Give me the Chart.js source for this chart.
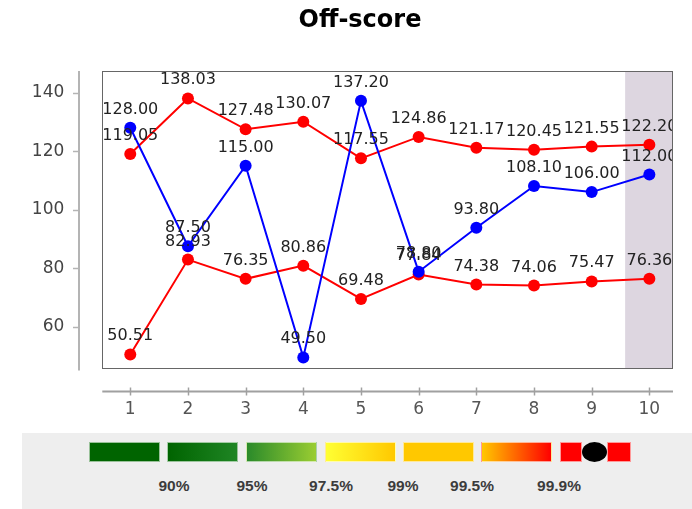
<!DOCTYPE html>
<html>
<head>
<meta charset="utf-8">
<script src="https://cdn.jsdelivr.net/npm/chart.js@4.4.1/dist/chart.umd.min.js"></script>
<style>
  html, body { margin: 0; padding: 0; background: #fff; }
  #wrap { position: relative; width: 692px; height: 509px; overflow: hidden; }
  #chart { position: absolute; left: 0; top: 0; }
  #title { position: absolute; left: 260px; width: 200px; top: 5px; line-height: 29px; text-align: center; font: bold 24px "DejaVu Sans", sans-serif; color: #000; }
  #band { position: absolute; left: 22px; top: 433px; width: 670px; height: 76px; background: #eeeeee; }
  .sw { position: absolute; top: 9px; height: 20px; box-sizing: border-box; border: 1px solid rgba(255,255,255,0.6); }
  .lab { position: absolute; top: 44px; font: bold 15.5px "Liberation Sans", Arial, sans-serif; color: #3c3c3c; transform: translateX(-50%); white-space: nowrap; }
</style>
</head>
<body>
<div id="wrap">
  <canvas id="chart" width="692" height="433"></canvas>
  <div id="title">Off-score</div>
  <div id="band"></div>
</div>
<script>
// x positions 1..10
const categories = [1, 2, 3, 4, 5, 6, 7, 8, 9, 10];
const upperLimit = [119.05, 138.03, 127.48, 130.07, 117.55, 124.86, 121.17, 120.45, 121.55, 122.20];
const lowerLimit = [50.51, 82.93, 76.35, 80.86, 69.48, 77.84, 74.38, 74.06, 75.47, 76.36];
const offScore = [128.00, 87.50, 115.00, 49.50, 137.20, 78.80, 93.80, 108.10, 106.00, 112.00];
const highlightFrom = 9.58;

// legend band
const legendColors = [
    'linear-gradient(to right, #006400, #006400)',
    'linear-gradient(to right, #006400, #1f8524)',
    'linear-gradient(to right, #2a8a2a, #9acd32)',
    'linear-gradient(to right, #ffff33, #ffc800)',
    'linear-gradient(to right, #ffc800, #ffc800)',
    'linear-gradient(to right, #ffc800, #ff0000)'
];
const legendLabels = ['90%', '95%', '97.5%', '99%', '99.5%', '99.9%'];

const band = document.getElementById('band');
const swLeft = [89, 167, 246, 325, 403, 481];
legendColors.forEach(function(c, i){
    const d = document.createElement('div');
    d.className = 'sw';
    d.style.left = (swLeft[i] - 22) + 'px';
    d.style.width = '71px';
    d.style.background = c;
    band.appendChild(d);
});
// red - black dot - red
[[560, 22, '#ff0000'], [607, 24, '#ff0000']].forEach(function(s){
    const d = document.createElement('div');
    d.className = 'sw';
    d.style.left = (s[0] - 22) + 'px';
    d.style.width = s[1] + 'px';
    d.style.background = s[2];
    band.appendChild(d);
});
const dot = document.createElement('div');
dot.style.cssText = 'position:absolute;top:9px;left:' + (582 - 22) + 'px;width:25px;height:20px;border-radius:50%;background:#000;';
band.appendChild(dot);
const labX = [174, 252, 331, 403, 472, 559];
legendLabels.forEach(function(t, i){
    const d = document.createElement('div');
    d.className = 'lab';
    d.style.left = (labX[i] - 22) + 'px';
    d.textContent = t;
    band.appendChild(d);
});

function pts(arr){
    return arr.map(function(v, i){ return {x: categories[i], y: v}; });
}

const decor = {
    id: 'decor',
    beforeDatasetsDraw(chart) {
        const c = chart.ctx, a = chart.chartArea, xs = chart.scales.x, ys = chart.scales.y;
        c.save();
        // shaded last column
        const x0 = xs.getPixelForValue(highlightFrom);
        c.fillStyle = '#ddd6e0';
        c.fillRect(x0, a.top, a.right - x0, a.bottom - a.top);
        // y axis line (detached) with ticks
        c.strokeStyle = '#b4b4b4';
        c.lineWidth = 2;
        c.beginPath();
        c.moveTo(79, a.top);
        c.lineTo(79, a.bottom + 2);
        c.stroke();
        c.lineWidth = 1.5;
        ys.ticks.forEach(function(t){
            const py = Math.round(ys.getPixelForValue(t.value)) + 0.5;
            c.beginPath();
            c.moveTo(73, py);
            c.lineTo(79, py);
            c.stroke();
        });
        // x axis line (detached) with ticks
        const yAx = Math.round(a.bottom) + 22.5;
        c.strokeStyle = '#a0a0a0';
        c.lineWidth = 2;
        c.beginPath();
        c.moveTo(a.left, yAx);
        c.lineTo(a.right, yAx);
        c.stroke();
        c.lineWidth = 1.5;
        xs.ticks.forEach(function(t){
            const px = Math.round(xs.getPixelForValue(t.value)) + 0.5;
            c.beginPath();
            c.moveTo(px, yAx - 4);
            c.lineTo(px, yAx + 4);
            c.stroke();
        });
        c.restore();
    },
    afterDatasetsDraw(chart) {
        const c = chart.ctx, a = chart.chartArea;
        const L = Math.round(a.left), T = Math.round(a.top), R = Math.round(a.right), B = Math.round(a.bottom);
        c.save();
        // plot border
        c.fillStyle = '#666666';
        c.fillRect(L, T, R - L, 1);
        c.fillRect(L, B - 1, R - L, 1);
        c.fillRect(L, T, 1, B - T);
        c.fillRect(R - 1, T, 1, B - T);
        // value labels, clipped to the plot
        c.beginPath();
        c.rect(L + 1, T + 1, R - L - 2, B - T - 2);
        c.clip();
        c.font = '16px "DejaVu Sans"';
        c.fillStyle = '#222';
        c.textAlign = 'center';
        c.textBaseline = 'alphabetic';
        chart.data.datasets.forEach(function(ds, i){
            chart.getDatasetMeta(i).data.forEach(function(p, j){
                c.fillText(ds.data[j].y.toFixed(2), p.x, p.y - 14);
            });
        });
        c.restore();
    }
};

new Chart(document.getElementById('chart'), {
    type: 'line',
    data: {
        datasets: [{
            label: 'Off-score',
            data: pts(offScore),
            borderColor: '#0000ff',
            backgroundColor: '#0000ff',
            borderWidth: 2,
            pointRadius: 6,
            pointBorderWidth: 0
        }, {
            label: 'upper',
            data: pts(upperLimit),
            borderColor: '#ff0000',
            backgroundColor: '#ff0000',
            borderWidth: 2,
            pointRadius: 6,
            pointBorderWidth: 0
        }, {
            label: 'lower',
            data: pts(lowerLimit),
            borderColor: '#ff0000',
            backgroundColor: '#ff0000',
            borderWidth: 2,
            pointRadius: 6,
            pointBorderWidth: 0
        }]
    },
    options: {
        responsive: false,
        animation: false,
        layout: { padding: { left: 20, right: 19, top: 71, bottom: 0 } },
        plugins: {
            legend: { display: false },
            tooltip: { enabled: false },
            title: { display: false }
        },
        scales: {
            x: {
                type: 'linear',
                min: 0.515,
                max: 10.41,
                grid: { display: false, drawTicks: false },
                border: { display: false },
                ticks: {
                    stepSize: 1,
                    includeBounds: false,
                    padding: 31,
                    color: '#555',
                    font: { family: '"DejaVu Sans"', size: 17 }
                },
                afterFit: function(s){ s.height = 64.5; }
            },
            y: {
                min: 45.7,
                max: 147.4,
                grid: { display: false, drawTicks: false },
                border: { display: false },
                ticks: {
                    stepSize: 20,
                    includeBounds: false,
                    padding: 38,
                    color: '#444',
                    font: { family: '"DejaVu Sans"', size: 17 }
                },
                afterFit: function(s){ s.width = 82.3; }
            }
        }
    },
    plugins: [decor]
});
</script>
</body>
</html>
